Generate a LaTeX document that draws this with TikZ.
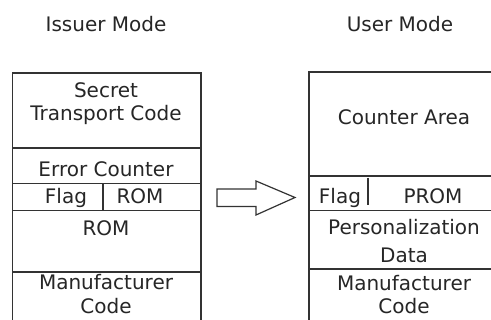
\documentclass[tikz,border=0pt]{standalone}
\usepackage{fontspec}
\setmainfont{DejaVu Sans}
\begin{document}
\begin{tikzpicture}[x=1pt,y=-1pt,
  lbl/.style={inner sep=0pt,anchor=base,font=\fontsize{20}{24}\selectfont,text=black!85},
  ln/.style={draw=black!80,line width=1.3pt},
  blockarrow/.style={draw=black!80,line width=1.2pt,line join=miter}]
\useasboundingbox (0,0) rectangle (491,320);
\clip (0,0) rectangle (491,320);
\fill[white] (0,0) rectangle (491,320);
% titles
\node[lbl] (t1) at (106,32) {Issuer Mode};
\node[lbl] (t2) at (400,32) {User Mode};
% left box
\draw[ln] (12.5,340) -- (12.5,73) -- (201,73) -- (201,340);
\draw[ln] (12.5,148) -- (201,148);
\draw[ln] (12.5,183.5) -- (201,183.5);
\draw[ln] (12.5,210.5) -- (201,210.5);
\draw[ln] (12.5,272) -- (201,272);
\draw[ln] (103,183.5) -- (103,210.5);
\node[lbl] (l1) at (106,98) {Secret};
\node[lbl] (l2) at (106,121) {Transport Code};
\node[lbl] (l3) at (106,177) {Error Counter};
\node[lbl] (l4) at (66,204) {Flag};
\node[lbl] (l5) at (140,204) {ROM};
\node[lbl] (l6) at (106,236) {ROM};
\node[lbl] (l7) at (106,290) {Manufacturer};
\node[lbl] (l8) at (106,314) {Code};
% right box
\draw[ln] (309,340) -- (309,72) -- (500,72);
\draw[ln] (309,176) -- (500,176);
\draw[ln] (309,210.5) -- (500,210.5);
\draw[ln] (309,269) -- (500,269);
\draw[ln] (368,178) -- (368,205);
\node[lbl] (r1) at (404,125) {Counter Area};
\node[lbl] (r2) at (340,204) {Flag};
\node[lbl] (r3) at (433,204) {PROM};
\node[lbl] (r4) at (404,235) {Personalization};
\node[lbl] (r5) at (404,263) {Data};
\node[lbl] (r6) at (404,291) {Manufacturer};
\node[lbl] (r7) at (404,314) {Code};
% block arrow
\draw[blockarrow] (217,189) -- (256,189) -- (256,181) -- (295,197.5) -- (256,215) -- (256,206.5) -- (217,206.5) -- cycle;
\end{tikzpicture}
\end{document}
